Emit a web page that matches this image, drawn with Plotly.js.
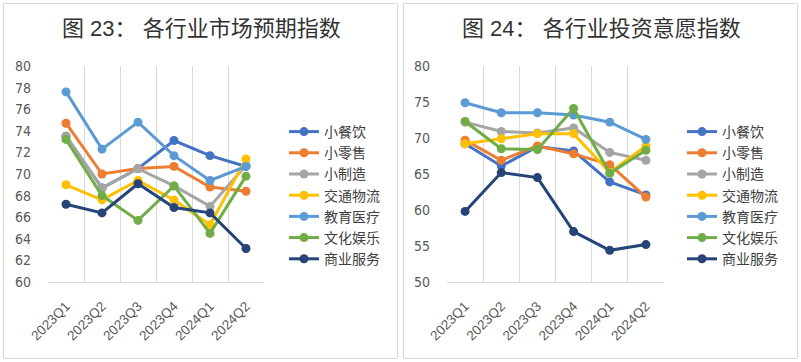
<!DOCTYPE html>
<html><head><meta charset="utf-8">
<script src="https://cdn.plot.ly/plotly-3.0.1.min.js"></script>
<style>html,body{margin:0;padding:0;background:#fff}#c{width:801px;height:362px}</style>
</head><body><div id="c"></div>
<script>
const quarters = ["2023Q1","2023Q2","2023Q3","2023Q4","2024Q1","2024Q2"];
const seriesNames = ["小餐饮","小零售","小制造","交通物流","教育医疗","文化娱乐","商业服务"];
const colors = ["#4472C4","#ED7D31","#A5A5A5","#FFC000","#5B9BD5","#70AD47","#264478"];

// 图23 各行业市场预期指数
const expect_xcy   = [73.5, 68.7, 70.5, 73.1, 71.7, 70.7];
const expect_xls   = [74.7, 70.0, 70.5, 70.7, 68.8, 68.4];
const expect_xzz   = [73.5, 68.7, 70.5, 68.9, 67.0, 70.8];
const expect_jtwl  = [69.0, 67.6, 69.4, 67.6, 65.3, 71.4];
const expect_jyyl  = [77.6, 72.3, 74.8, 71.7, 69.4, 70.7];
const expect_whyl  = [73.2, 68.0, 65.7, 68.9, 64.5, 69.8];
const expect_syfw  = [67.2, 66.4, 69.1, 66.9, 66.4, 63.1];

// 图24 各行业投资意愿指数
const invest_xcy   = [69.2, 66.1, 68.8, 68.2, 63.9, 62.1];
const invest_xls   = [69.7, 66.9, 68.9, 67.8, 66.3, 61.8];
const invest_xzz   = [72.2, 70.9, 70.7, 71.4, 68.0, 66.9];
const invest_jtwl  = [69.2, 69.9, 70.6, 70.6, 65.2, 68.9];
const invest_jyyl  = [74.9, 73.5, 73.5, 73.2, 72.2, 69.8];
const invest_whyl  = [72.3, 68.5, 68.4, 74.1, 65.1, 68.3];
const invest_syfw  = [59.8, 65.2, 64.5, 57.0, 54.4, 55.2];

const expectSeries = [expect_xcy, expect_xls, expect_xzz, expect_jtwl, expect_jyyl, expect_whyl, expect_syfw];
const investSeries = [invest_xcy, invest_xls, invest_xzz, invest_jtwl, invest_jyyl, invest_whyl, invest_syfw];

const FONT = "Liberation Sans, Arial, Noto Sans CJK SC, sans-serif";
const NARROW = "Liberation Sans Narrow, DejaVu Sans Condensed, Liberation Sans, sans-serif";
const traces = [];
expectSeries.forEach((ys, i) => traces.push({
  x: quarters, y: ys, name: seriesNames[i], type: "scatter", mode: "lines+markers",
  line: {color: colors[i], width: 3}, marker: {color: colors[i], size: 9},
  xaxis: "x", yaxis: "y", legend: "legend"
}));
investSeries.forEach((ys, i) => traces.push({
  x: quarters, y: ys, name: seriesNames[i], type: "scatter", mode: "lines+markers",
  line: {color: colors[i], width: 3}, marker: {color: colors[i], size: 9},
  xaxis: "x2", yaxis: "y2", legend: "legend2"
}));

const W = 801, H = 362;
const yDom = [1 - 282/H, 1 - 66/H];
function xa(dom){
  return {domain: dom, type: "category", range: [-0.5, 5.5], tickson: "boundaries",
    showgrid: true, gridcolor: "#D9D9D9", gridwidth: 1, showline: true, linecolor: "#D9D9D9",
    ticks: "", tickangle: -45, ticklabelstandoff: 10,
    tickfont: {family: FONT, size: 13.5, color: "#595959"}, fixedrange: true};
}
function ya(dom, r, dt, anchor){
  return {domain: dom, range: r, dtick: dt, tick0: r[0], showgrid: false, zeroline: false,
    showline: false, ticks: "", anchor: anchor, ticklabelstandoff: 16,
    tickfont: {family: NARROW, size: 14, color: "#595959"}, fixedrange: true};
}
const legStyle = (x) => ({x: x, y: 1 - 116/H, xanchor: "left", yanchor: "top",
  font: {family: FONT, size: 14, color: "#404040"}, bgcolor: "rgba(0,0,0,0)",
  tracegroupgap: 0, itemwidth: 30, borderwidth: 0});

const layout = {
  width: W, height: H, margin: {l: 0, r: 0, t: 0, b: 0},
  paper_bgcolor: "#fff", plot_bgcolor: "#fff", showlegend: true,
  xaxis: Object.assign(xa([48/W, 264/W]), {anchor: "y"}),
  yaxis: ya(yDom, [60, 80], 2, "x"),
  xaxis2: Object.assign(xa([447/W, 664/W]), {anchor: "y2"}),
  yaxis2: ya(yDom, [50, 80], 5, "x2"),
  legend: legStyle(284/W),
  legend2: legStyle(682/W),
  shapes: [
    {type: "rect", xref: "paper", yref: "paper", x0: 3.5/W, x1: 397.5/W, y0: 1 - 358.5/H, y1: 1 - 3.5/H, line: {color: "#D9D9D9", width: 1}},
    {type: "rect", xref: "paper", yref: "paper", x0: 403.5/W, x1: 797.5/W, y0: 1 - 358.5/H, y1: 1 - 3.5/H, line: {color: "#D9D9D9", width: 1}}
  ],
  annotations: [
    {text: "图 23： 各行业市场预期指数", xref: "paper", yref: "paper", x: 201/W, y: 1 - 28/H, xanchor: "center", yanchor: "middle", showarrow: false, font: {family: FONT, size: 22, color: "#333333"}},
    {text: "图 24： 各行业投资意愿指数", xref: "paper", yref: "paper", x: 601/W, y: 1 - 28/H, xanchor: "center", yanchor: "middle", showarrow: false, font: {family: FONT, size: 22, color: "#333333"}}
  ]
};
Plotly.newPlot("c", traces, layout, {displayModeBar: false, staticPlot: true});
</script></body></html>
